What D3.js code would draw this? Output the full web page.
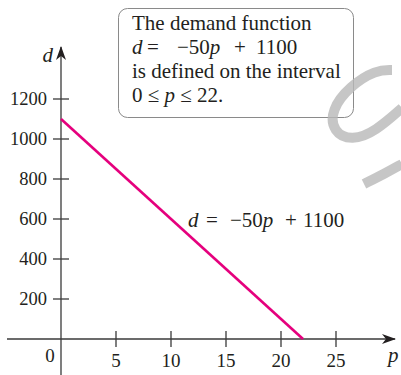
<!DOCTYPE html>
<html>
<head>
<meta charset="utf-8">
<script src="https://cdn.jsdelivr.net/npm/d3@7/dist/d3.min.js"></script>
<style>
  body { margin: 0; background: white; }
  svg text { font-family: "Liberation Serif", "Times New Roman", serif; fill: #231f20; }
</style>
</head>
<body>
<div id="chart"></div>
<script>
// values
const priceP = [0, 22];
const demandD = [1100, 0];
const xTicks = [5, 10, 15, 20, 25];
const yTicks = [200, 400, 600, 800, 1000, 1200];
const boxLines = ['The demand function', 'is defined on the interval'];

const width = 401, height = 375;
const svg = d3.select('#chart').append('svg')
  .attr('width', width)
  .attr('height', height);

// scales
const x = d3.scaleLinear().domain([0, 25]).range([61, 336]);
const y = d3.scaleLinear().domain([0, 1200]).range([339, 99]);

const axisColor = '#3a3a3a';

// arrow marker
const defs = svg.append('defs');
defs.append('marker')
  .attr('id', 'arrow')
  .attr('viewBox', '0 0 14 10')
  .attr('refX', 13).attr('refY', 5)
  .attr('markerWidth', 14).attr('markerHeight', 10)
  .attr('markerUnits', 'userSpaceOnUse')
  .attr('orient', 'auto')
  .append('path')
  .attr('d', 'M0,0 L14,5 L0,10 L4,5 Z')
  .attr('fill', '#231f20');

// faint watermark stroke at the right edge (behind everything)
const wm = d3.line().curve(d3.curveBasis);
const wmG = svg.append('g')
  .attr('fill', 'none')
  .attr('stroke', '#c4c4c4')
  .attr('stroke-width', 10);

// axes lines
svg.append('line')
  .attr('x1', 7).attr('x2', 395)
  .attr('y1', y(0)).attr('y2', y(0))
  .attr('stroke', axisColor).attr('stroke-width', 1.3)
  .attr('marker-end', 'url(#arrow)');
svg.append('line')
  .attr('x1', x(0)).attr('x2', x(0))
  .attr('y1', 375).attr('y2', 47)
  .attr('stroke', axisColor).attr('stroke-width', 1.3)
  .attr('marker-end', 'url(#arrow)');

// x ticks
const xt = svg.append('g').selectAll('g').data(xTicks).join('g')
  .attr('transform', d => `translate(${x(d)},0)`);
xt.append('line')
  .attr('y1', y(0) - 8).attr('y2', y(0) + 8)
  .attr('stroke', axisColor).attr('stroke-width', 1.3);
xt.append('text')
  .attr('y', 367)
  .attr('text-anchor', 'middle')
  .attr('font-size', 19)
  .text(d => d);

// zero label
svg.append('text')
  .attr('x', 50).attr('y', 362)
  .attr('text-anchor', 'middle')
  .attr('font-size', 19)
  .text('0');

// y ticks
const yt = svg.append('g').selectAll('g').data(yTicks).join('g')
  .attr('transform', d => `translate(0,${y(d)})`);
yt.append('line')
  .attr('x1', x(0) - 8).attr('x2', x(0) + 8)
  .attr('stroke', axisColor).attr('stroke-width', 1.3);
yt.append('text')
  .attr('x', 47).attr('y', 6)
  .attr('text-anchor', 'end')
  .attr('font-size', 18.5)
  .text(d => d);

// axis labels
svg.append('text')
  .attr('x', 53).attr('y', 62)
  .attr('text-anchor', 'end')
  .attr('font-size', 21)
  .attr('font-style', 'italic')
  .text('d');
svg.append('text')
  .attr('x', 388).attr('y', 362)
  .attr('font-size', 21)
  .attr('font-style', 'italic')
  .text('p');

// demand line
const line = d3.line()
  .x((d, i) => x(priceP[i]))
  .y(d => y(d));
svg.append('path')
  .datum(demandD)
  .attr('d', line)
  .attr('fill', 'none')
  .attr('stroke', '#e5007d')
  .attr('stroke-width', 2.6);

// equation with math spacing, x0 = left edge
function equation(sel, x0) {
  sel.append('tspan').attr('x', x0).attr('font-style', 'italic').text('d');
  sel.append('tspan').attr('x', x0 + 18).text('=');
  sel.append('tspan').attr('x', x0 + 42).text('−50');
  sel.append('tspan').attr('font-style', 'italic').text('p');
  sel.append('tspan').attr('x', x0 + 97).text('+');
  sel.append('tspan').attr('x', x0 + 115).text('1100');
}
svg.append('text')
  .attr('y', 227)
  .attr('font-size', 21)
  .call(equation, 188);

// text box
svg.append('rect')
  .attr('x', 118.5).attr('y', 8.5)
  .attr('width', 235).attr('height', 109)
  .attr('rx', 9)
  .attr('fill', 'white')
  .attr('stroke', '#8a8a8a')
  .attr('stroke-width', 1);

const boxText = svg.append('g').attr('font-size', 21);
const baselines = [30, 54, 78, 102];
boxText.append('text').attr('x', 132).attr('y', baselines[0]).text(boxLines[0]);
boxText.append('text').attr('y', baselines[1])
  .call(sel => {
    sel.append('tspan').attr('x', 132).attr('font-style', 'italic').text('d');
    sel.append('tspan').attr('x', 147).text('=');
    sel.append('tspan').attr('x', 177).text('−50');
    sel.append('tspan').attr('font-style', 'italic').text('p');
    sel.append('tspan').attr('x', 234).text('+');
    sel.append('tspan').attr('x', 256).text('1100');
  });
boxText.append('text').attr('x', 132).attr('y', baselines[2]).text(boxLines[1]);
boxText.append('text').attr('x', 132).attr('y', baselines[3])
  .call(sel => {
    sel.append('tspan').text('0 ≤ ');
    sel.append('tspan').attr('font-style', 'italic').text('p');
    sel.append('tspan').text(' ≤ 22.');
  });

// watermark drawn on top, semi-transparent
svg.append('path')
  .attr('d', wm([[392, 70], [376, 70], [350, 86], [331, 110], [333, 132], [352, 141], [376, 131], [402, 108]]))
  .attr('fill', 'none')
  .attr('stroke', '#b8b8b8')
  .attr('stroke-opacity', 0.8)
  .attr('stroke-width', 10);
svg.append('path')
  .attr('d', wm([[364, 184], [384, 174], [402, 164]]))
  .attr('fill', 'none')
  .attr('stroke', '#b8b8b8')
  .attr('stroke-opacity', 0.8)
  .attr('stroke-width', 10);
</script>
</body>
</html>
